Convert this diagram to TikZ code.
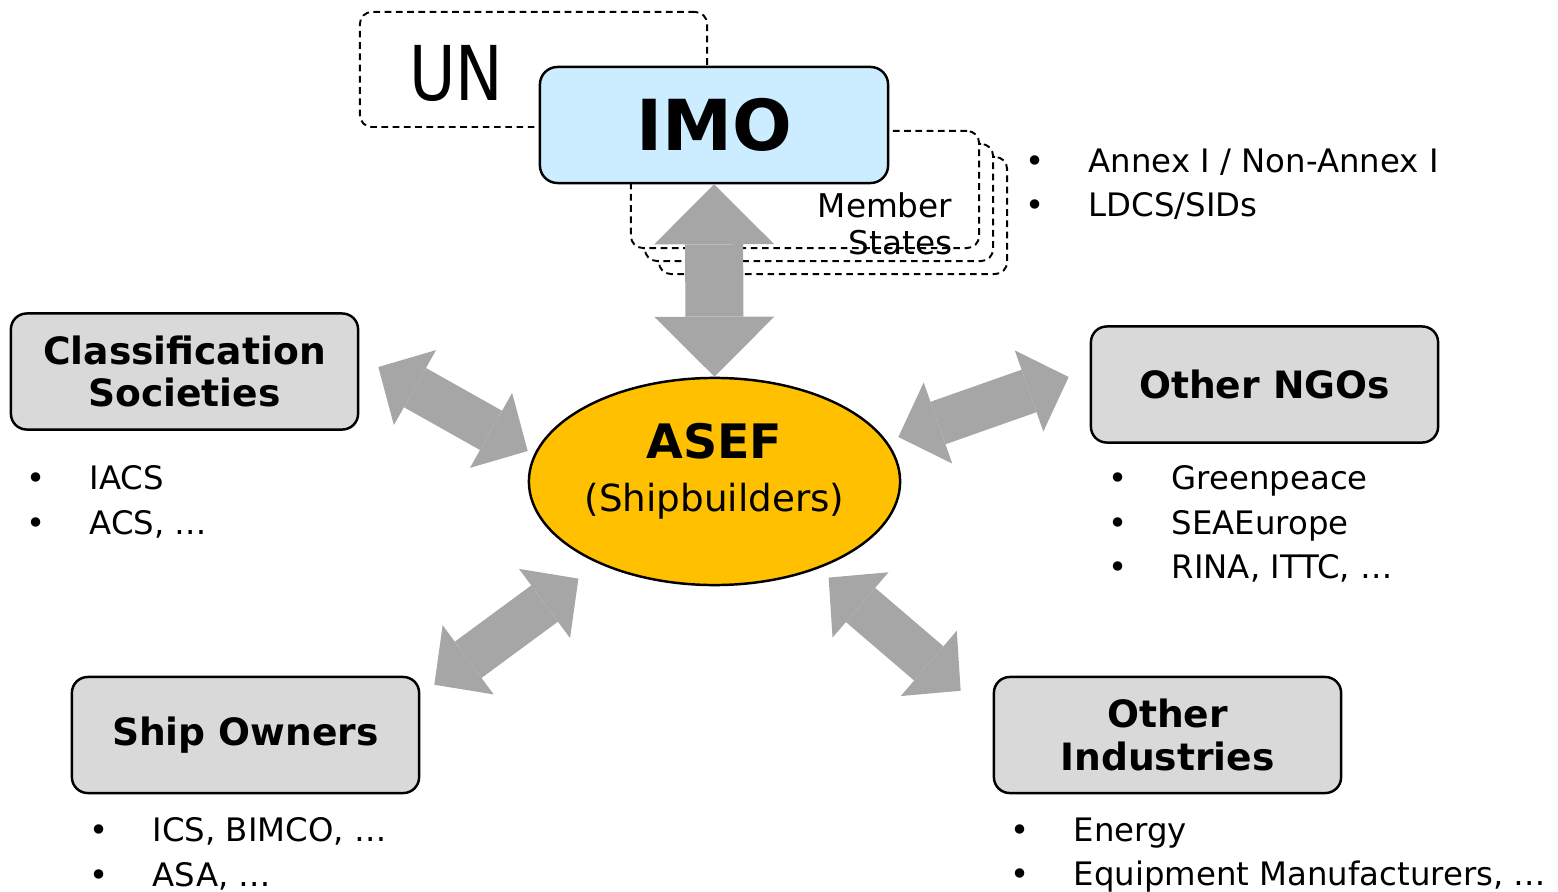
\documentclass[tikz,border=0pt]{standalone}
\usepackage{fontspec}
\setmainfont{DejaVu Sans}
\usepackage{graphicx}
\usetikzlibrary{shapes,arrows.meta,positioning}

\definecolor{imoblue}{HTML}{CCECFF}
\definecolor{boxgray}{HTML}{D9D9D9}
\definecolor{arrgray}{HTML}{A6A6A6}
\definecolor{asefgold}{HTML}{FFC000}

\newcommand{\itm}[1]{\makebox[0.63cm][l]{•}#1}

\begin{document}
\begin{tikzpicture}[
    x=0.01cm, y=-0.01cm,
    every node/.style={inner sep=0pt},
    party/.style={draw, fill=boxgray, line width=0.7pt, rounded corners=4.5pt, minimum width=3.47cm, minimum height=1.16cm, align=center, font=\fontsize{10.7}{12}\selectfont\bfseries},
    dashbox/.style={draw, fill=white, line width=0.55pt, dash pattern=on 1.9pt off 1.3pt, rounded corners=3.4pt},
    bullets/.style={anchor=north west, align=left, font=\fontsize{9.2}{12.6}\selectfont},
    link/.style={arrgray, line width=0.45cm, >={Triangle[length=0.42cm, width=0.86cm, line width=0pt]}, <->},
    biglink/.style={line width=0.58cm, >={Triangle[length=0.6cm, width=1.2cm, line width=0pt]}}
]
\useasboundingbox (0,0) rectangle (1558,891);

% UN frame
\node[dashbox, minimum width=3.47cm, minimum height=1.15cm] (un) at (533.5, 69.5) {};
\node[font=\fontsize{21.5}{24}\selectfont] (unlabel) at (456, 73) {\scalebox{0.84}[1]{UN}};

% Member States (stacked)
\node[dashbox, minimum width=3.48cm, minimum height=1.17cm] (ms3) at (833, 215.5) {};
\node[dashbox, minimum width=3.48cm, minimum height=1.17cm] (ms2) at (819, 202.5) {};
\node[dashbox, minimum width=3.48cm, minimum height=1.17cm] (ms1) at (805, 189.5) {};
\node[anchor=east, align=right, font=\fontsize{9.3}{10.5}\selectfont] (mslabel) at (953, 224) {Member\\States};

% IMO
\node[draw, fill=imoblue, line width=0.7pt, rounded corners=5pt, minimum width=3.48cm, minimum height=1.16cm, font=\fontsize{20}{24}\selectfont\bfseries] (imo) at (714, 125) {IMO};
\node[bullets] (imolist) at (1025, 148) {\itm{Annex I / Non-Annex I}\\\itm{LDCS/SIDs}};

% ASEF
\node[ellipse, draw, fill=asefgold, line width=0.7pt, minimum width=3.71cm, minimum height=2.07cm] (asef) at (714.5, 481.5) {};
\node[font=\fontsize{13.5}{16}\selectfont\bfseries] (asefname) at (714.5, 441.5) {ASEF};
\node[font=\fontsize{10.6}{13}\selectfont] (asefsub) at (714.5, 501) {(Shipbuilders)};

% Stakeholders
\node[party] (cls) at (184.5, 371.5) {Classification\\Societies};
\node[party] (ngo) at (1264.5, 384.5) {Other NGOs};
\node[party] (own) at (245.5, 735) {Ship Owners};
\node[party] (ind) at (1167.5, 735) {Other\\Industries};

\node[bullets] (clslist) at (26, 465) {\itm{IACS}\\\itm{ACS, …}};
\node[bullets] (ngolist) at (1108, 465) {\itm{Greenpeace}\\\itm{SEAEurope}\\\itm{RINA, ITTC, …}};
\node[bullets] (ownlist) at (89, 817) {\itm{ICS, BIMCO, …}\\\itm{ASA, …}};
\node[bullets] (indlist) at (1010, 817) {\itm{Energy}\\\itm{Equipment Manufacturers, …}};

% Arrows
\draw[link, biglink] (imo.south) -- (asef.north);
\draw[link] ([shift={(19,-4.5)}]cls.east) -- ([shift={(0,-30.5)}]asef.west);
\draw[link] ([shift={(-3,-44.5)}]asef.east) -- ([shift={(-21,-7.5)}]ngo.west);
\draw[link] ([shift={(14,9)}]own.north east) -- ([shift={(-4,23)}]asef.south west);
\draw[link] ([shift={(-18,22)}]asef.south east) -- ([shift={(-32,15)}]ind.north west);

\end{tikzpicture}
\end{document}
